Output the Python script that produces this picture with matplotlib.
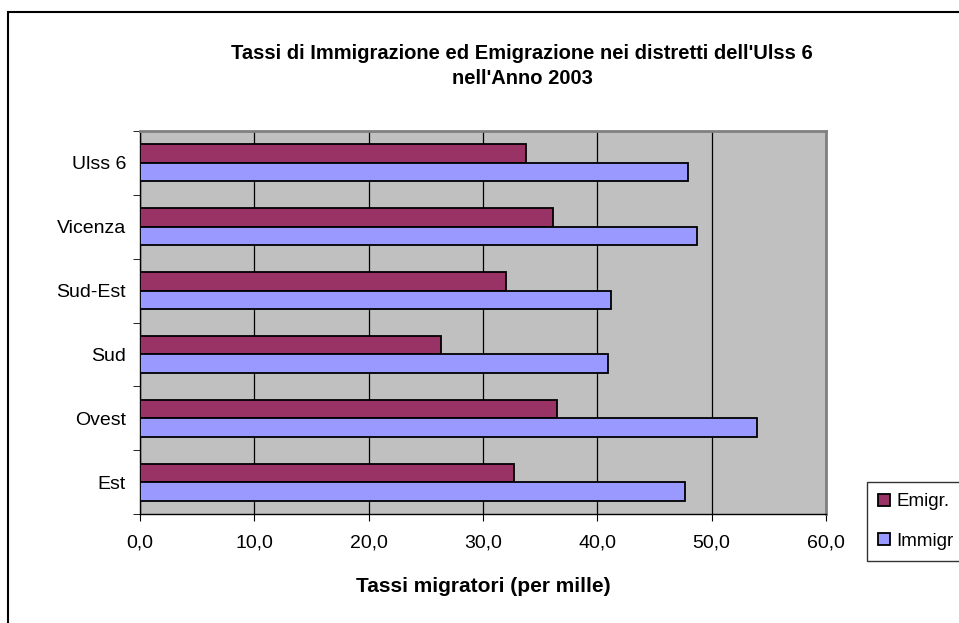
import matplotlib.pyplot as plt
import numpy as np
from matplotlib.patches import Rectangle

categories = ["Est", "Ovest", "Sud", "Sud-Est", "Vicenza", "Ulss 6"]
emigr = [32.7, 36.5, 26.3, 32.0, 36.1, 33.8]
immigr = [47.7, 54.0, 40.9, 41.2, 48.7, 47.9]
xticks = [0, 10, 20, 30, 40, 50, 60]
xtick_labels = ["0,0", "10,0", "20,0", "30,0", "40,0", "50,0", "60,0"]

plt.rcParams["font.family"] = ["Liberation Sans", "DejaVu Sans"]

W, H = 959, 623
fig = plt.figure(figsize=(W / 100, H / 100), dpi=100)

# outer chart border (runs off the right and bottom edges)
fig.patches.append(Rectangle((8 / W, -0.05), 1.0, 1 - 12 / H + 0.05,
                             transform=fig.transFigure, fill=False,
                             edgecolor="black", linewidth=1.5))

ax = fig.add_axes([140 / W, (H - 514) / H, (826 - 140) / W, (514 - 131) / H])
ax.set_facecolor("#C0C0C0")

y = np.arange(len(categories))
bar_h = 0.29
ax.barh(y + bar_h / 2, emigr, height=bar_h, color="#993366",
        edgecolor="black", linewidth=1.3, label="Emigr.", zorder=3)
ax.barh(y - bar_h / 2, immigr, height=bar_h, color="#9999FF",
        edgecolor="black", linewidth=1.3, label="Immigr", zorder=3)

ax.set_xlim(0, 60)
ax.set_ylim(-0.5, len(categories) - 0.5)
ax.set_xticks(xticks)
ax.set_xticklabels(xtick_labels, fontsize=14)
ax.set_yticks(y)
ax.set_yticklabels(categories, fontsize=14)
ax.tick_params(axis="y", length=0, pad=10)
ax.set_yticks(np.arange(-0.5, len(categories)), minor=True)
ax.tick_params(axis="y", which="minor", length=5, direction="out")
ax.tick_params(axis="x", length=5, direction="out", pad=10)
ax.grid(axis="x", color="black", linewidth=0.9, zorder=1)
ax.set_axisbelow(True)

for side in ("top", "right"):
    ax.spines[side].set_color("#808080")
    ax.spines[side].set_linewidth(2)
for side in ("left", "bottom"):
    ax.spines[side].set_color("black")
    ax.spines[side].set_linewidth(1)

ax.set_xlabel("Tassi migratori (per mille)", fontsize=15, fontweight="bold",
              labelpad=18)

fig.text(522 / W, 1 - 66 / H,
         "Tassi di Immigrazione ed Emigrazione nei distretti dell'Ulss 6\nnell'Anno 2003",
         ha="center", va="center", fontsize=14.5, fontweight="bold", linespacing=1.45)

handles, labels = ax.get_legend_handles_labels()
leg = fig.legend(handles, labels, loc="upper left",
                 bbox_to_anchor=(867 / W, 1 - 482 / H), fontsize=13.5,
                 frameon=True, fancybox=False, edgecolor="black",
                 handlelength=0.6, handleheight=0.6, handletextpad=0.35,
                 borderpad=0.6, labelspacing=1.2, borderaxespad=0)
leg.get_frame().set_linewidth(1)

fig.savefig("out.png", dpi=100)
